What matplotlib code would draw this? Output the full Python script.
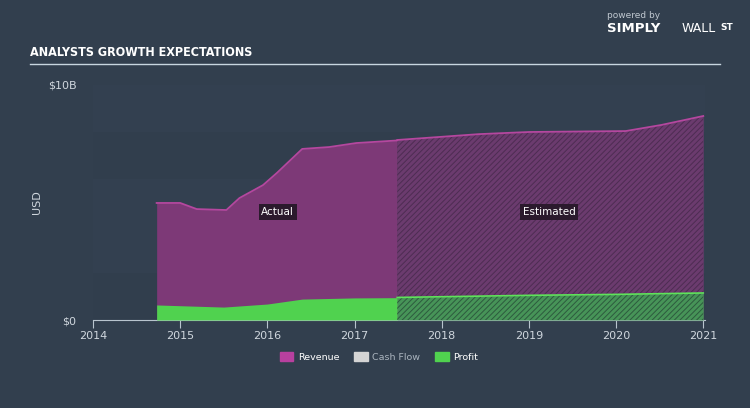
import numpy as np
import matplotlib.pyplot as plt

# revenue / profit, in $B
rev_years_act = [2014.73, 2015.0, 2015.19, 2015.53, 2015.68, 2015.95, 2016.11, 2016.40, 2016.71, 2017.02, 2017.49]
rev_act = [4.98, 4.98, 4.72, 4.68, 5.19, 5.74, 6.26, 7.28, 7.36, 7.53, 7.64]
rev_years_est = [2017.49, 2018.43, 2019.0, 2020.11, 2020.52, 2021.0]
rev_est = [7.66, 7.91, 8.0, 8.04, 8.30, 8.68]

prof_years_act = [2014.73, 2015.5, 2016.0, 2016.4, 2017.0, 2017.49]
prof_act = [0.64, 0.55, 0.68, 0.89, 0.94, 0.95]
prof_years_est = [2017.49, 2018.0, 2019.0, 2020.0, 2021.0]
prof_est = [0.96, 0.99, 1.05, 1.09, 1.15]

year_ticks = [2014, 2015, 2016, 2017, 2018, 2019, 2020, 2021]

bg = '#323f4e'
rev_col = '#7d3977'
rev_line = '#b5479f'
rev_est_col = '#6b3b6e'
prof_col = '#50d24f'
prof_est_col = '#479458'
txt = '#d0d7de'

fig = plt.figure(figsize=(7.5, 4.08), dpi=100)
fig.patch.set_facecolor(bg)
ax = fig.add_axes([93 / 750, 88 / 408, 612 / 750, 235 / 408])
ax.set_facecolor(bg)

# faint background bands
for lo, hi, c in [(8.0, 10.0, '#334050'), (6.0, 8.0, '#313e4d'), (2.0, 6.0, '#334050'), (0, 2.0, '#313e4d')]:
    ax.axhspan(lo, hi, color=c, lw=0, zorder=0)

# actual part
ax.fill_between(rev_years_act, 0, rev_act, color=rev_col, lw=0, zorder=2)
ax.plot(rev_years_act, rev_act, color=rev_line, lw=1.3, zorder=3)
ax.fill_between(prof_years_act, 0, prof_act, color=prof_col, lw=0, zorder=4)

# estimated part with hatching
plt.rcParams['hatch.linewidth'] = 0.7
ax.fill_between(rev_years_est, 0, rev_est, color=rev_est_col, lw=0, zorder=2)
ax.fill_between(rev_years_est, 0, rev_est, facecolor='none', edgecolor='#4d2c52',
                hatch='//////', lw=0, zorder=2.5)
ax.plot(rev_years_est, rev_est, color=rev_line, lw=1.3, zorder=3)
ax.fill_between(prof_years_est, 0, prof_est, color=prof_est_col, lw=0, zorder=4)
ax.fill_between(prof_years_est, 0, prof_est, facecolor='none', edgecolor='#2d5a3e',
                hatch='//////', lw=0, zorder=4.5)
ax.plot(prof_years_est, prof_est, color='#5ee35a', lw=1.2, zorder=5)

ax.set_xlim(2014, 2021.02)
ax.set_ylim(0, 10)
for s in ['top', 'right', 'left']:
    ax.spines[s].set_visible(False)
ax.spines['bottom'].set_color('#b8c4ce')
ax.spines['bottom'].set_linewidth(0.8)
ax.set_xticks(year_ticks)
ax.set_xticklabels([str(y) for y in year_ticks])
ax.tick_params(axis='x', colors='#b8c4ce', labelcolor=txt, labelsize=8, length=6, width=0.8, pad=2)
ax.set_yticks([0, 10])
ax.set_yticklabels(['$0', '$10B'])
ax.tick_params(axis='y', length=0, labelcolor=txt, labelsize=8, pad=12)
ax.set_ylabel('USD', color=txt, fontsize=8, labelpad=4)

box = dict(boxstyle='square,pad=0.25', fc='#2b1a2d', ec='none')
ax.text(2016.12, 4.6, 'Actual', color='white', fontsize=7.5, ha='center', va='center', bbox=box, zorder=6)
ax.text(2019.23, 4.6, 'Estimated', color='white', fontsize=7.5, ha='center', va='center', bbox=box, zorder=6)

# title and header
fig.text(30 / 750, 1 - 53 / 408, 'ANALYSTS GROWTH EXPECTATIONS', color='white', fontsize=9,
         fontweight='bold', fontstretch='condensed', va='center')
fig.add_artist(plt.Line2D([30 / 750, 720 / 750], [1 - 64 / 408, 1 - 64 / 408], color='#c8d6e0', lw=1))
fig.text(607 / 750, 1 - 15 / 408, 'powered by', color='#c0c8d0', fontsize=6.5, va='center')
fig.text(607 / 750, 1 - 28 / 408, 'SIMPLY', color='white', fontsize=9.5, fontweight='bold', va='center')
fig.text(682 / 750, 1 - 28 / 408, 'WALL', color='white', fontsize=9, va='center')
fig.text(720 / 750, 1 - 27 / 408, 'ST', color='white', fontsize=6.5, fontweight='bold', va='center')

# legend
handles = [plt.Rectangle((0, 0), 1, 1, color='#b8409f'),
           plt.Rectangle((0, 0), 1, 1, color='#d4d4d4'),
           plt.Rectangle((0, 0), 1, 1, color=prof_col)]
leg = fig.legend(handles, ['Revenue', 'Cash Flow', 'Profit'], loc='center', ncol=3,
                 bbox_to_anchor=(379 / 750, 1 - 357 / 408), frameon=False, fontsize=6.8,
                 handlelength=1.4, handleheight=1.0, columnspacing=1.6, handletextpad=0.5)
for t, c in zip(leg.get_texts(), ['white', '#aab4be', 'white']):
    t.set_color(c)

fig.savefig('out.png', dpi=100, facecolor=bg)
